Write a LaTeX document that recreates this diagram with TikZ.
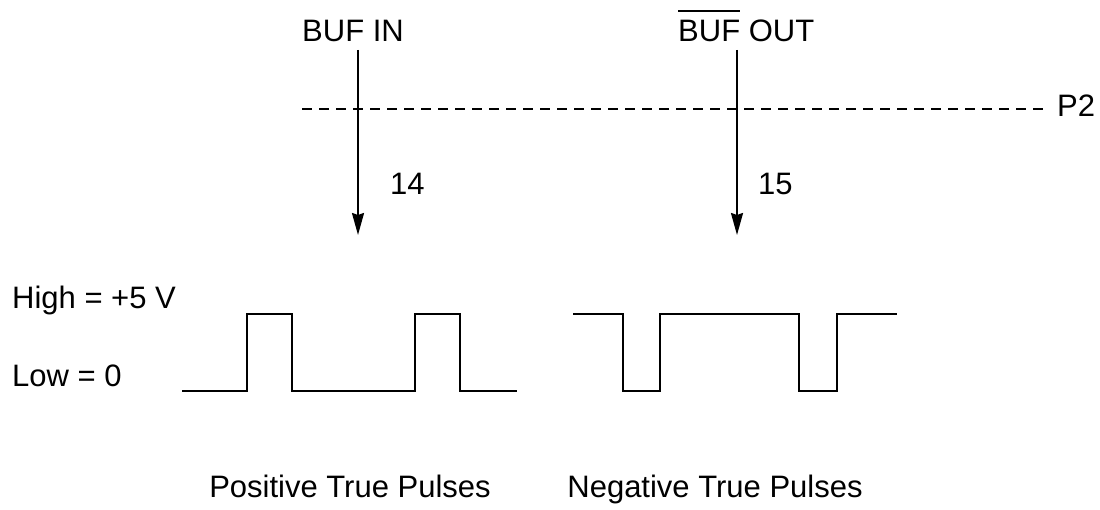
\documentclass[tikz,border=0pt]{standalone}
\usepackage{fontspec}
\setmainfont{Liberation Sans}
\usetikzlibrary{arrows.meta}
\newcommand{\barred}[1]{\leavevmode\vbox{\hrule height 1.6pt\kern 9pt\hbox{#1}}}
\begin{document}
\begin{tikzpicture}[x=1pt,y=1pt,
  lbl/.style={inner sep=0pt,font=\fontsize{31}{34}\selectfont},
  pin/.style={line width=2pt,-{Stealth[length=22pt,width=12pt,inset=2pt]}},
  wave/.style={line width=2.5pt,line join=miter}]
\useasboundingbox (0,0) rectangle (1100,510);
\node[lbl,anchor=base west] (bufin) at (302,468) {BUF IN};
\node[lbl,anchor=base west] (bufout) at (678,468) {\barred{BUF} OUT};
\coordinate (intop) at (358,460);
\coordinate (inend) at (358,275);
\coordinate (outtop) at (737,460);
\coordinate (outend) at (737,275);
\coordinate (dashl) at (302,401);
\coordinate (dashr) at (1045,401);
\node[lbl,anchor=base west] (ptwo) at (1057,393) {P2};
\draw[line width=2pt,dash pattern=on 10pt off 7pt] (dashl) -- (dashr);
\draw[pin] (intop) -- (inend);
\draw[pin] (outtop) -- (outend);
\node[lbl,anchor=base west] (pfourteen) at (390,315) {14};
\node[lbl,anchor=base west] (pfifteen) at (758,315) {15};
\node[lbl,anchor=base west] (high) at (12,201) {High = +5 V};
\node[lbl,anchor=base west] (low) at (12,123) {Low = 0};
\draw[wave] (182,119) -- (247,119) -- (247,196) -- (292,196) -- (292,119)
  -- (415,119) -- (415,196) -- (460,196) -- (460,119) -- (517,119);
\draw[wave] (573,196) -- (623,196) -- (623,119) -- (660,119) -- (660,196)
  -- (799,196) -- (799,119) -- (837,119) -- (837,196) -- (897,196);
\node[lbl,anchor=base] (postrue) at (350,12) {Positive True Pulses};
\node[lbl,anchor=base] (negtrue) at (715,12) {Negative True Pulses};
\end{tikzpicture}
\end{document}
